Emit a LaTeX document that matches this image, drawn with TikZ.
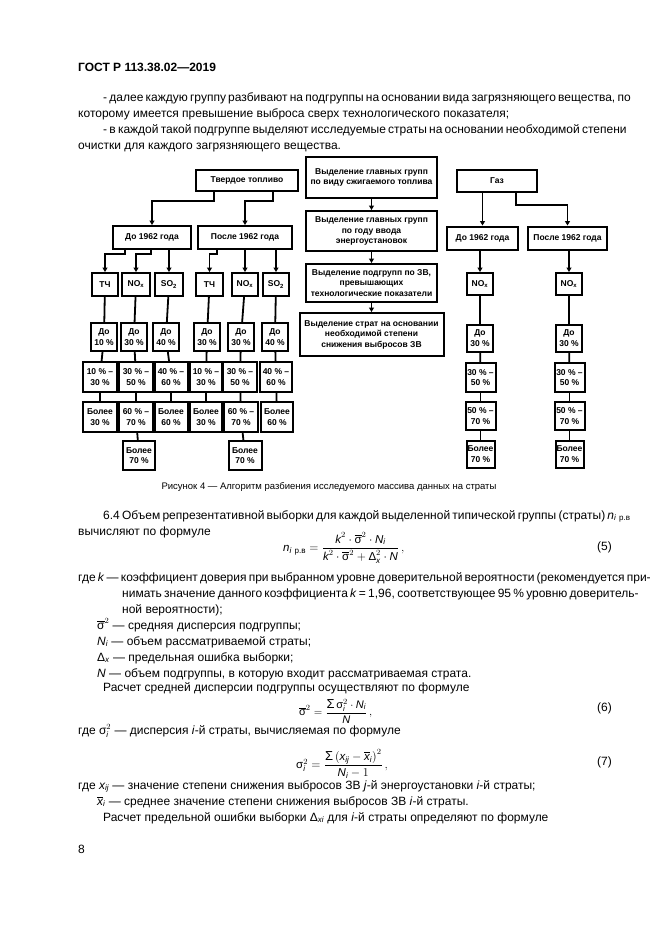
\documentclass[tikz,border=0pt]{standalone}
\usepackage{fontspec}
\setmainfont{Liberation Sans}
\usepackage{amsmath}
\usetikzlibrary{arrows.meta}
\newcommand{\vv}[1]{\textit{#1}}
\newcommand{\sgm}{\text{σ}}
\newcommand{\dlt}{\text{Δ}}
\newcommand{\smm}{\mathop{\text{\fontsize{13}{13}\selectfont Σ}}\nolimits}
\tikzset{
  blk/.style={draw, line width=2pt, inner sep=0.5pt, align=center, font=\bfseries\fontsize{8.5}{10.5}\selectfont},
  gbox/.style={blk, minimum width=#1, minimum height=23pt},
  sbox/.style={blk, minimum width=#1, minimum height=23pt},
  dbox/.style={blk, minimum width=26pt, minimum height=28pt},
  rbox/.style={blk, minimum width=#1, minimum height=30pt},
  lnk/.style={line width=1.8pt},
  arr/.style={line width=1.8pt, -{Triangle[length=4.5pt,width=5pt]}},
  txt/.style={anchor=base west, inner sep=0pt, font=\fontsize{12}{16}\selectfont},
  frm/.style={anchor=west, inner sep=0pt, font=\fontsize{11.5}{14}\selectfont},
}
\begin{document}
\begin{tikzpicture}[x=1pt, y=-1pt]
\useasboundingbox (0,0) rectangle (661,935);
\fill[white] (0,0) rectangle (661,935);

\node[txt, font=\bfseries\fontsize{12}{14}\selectfont] (hdr) at (78,71) {ГОСТ Р 113.38.02—2019};
\node[txt] (p1) at (103,101) {\makebox[509pt][s]{- далее каждую группу разбивают на подгруппы на основании вида загрязняющего вещества, по}};
\node[txt] (p2) at (78,117) {которому имеется превышение выброса сверх технологического показателя;};
\node[txt] (p3) at (103,133) {\makebox[509pt][s]{- в каждой такой подгруппе выделяют исследуемые страты на основании необходимой степени}};
\node[txt] (p4) at (78,149) {очистки для каждого загрязняющего вещества.};

\node[blk, minimum width=131pt, minimum height=41pt] (m1) at (371.5,177.5) {Выделение главных групп\\по виду сжигаемого топлива};
\node[blk, minimum width=131pt, minimum height=40pt] (m2) at (371.5,231) {Выделение главных групп\\по году ввода\\энергоустановок};
\node[blk, minimum width=131pt, minimum height=38pt] (m3) at (371.5,283) {Выделение подгрупп по ЗВ,\\превышающих\\технологические показатели};
\node[blk, minimum width=144pt, minimum height=43pt] (m4) at (371.5,334.5) {Выделение страт на основании\\необходимой степени\\снижения выбросов ЗВ};
\draw[arr] (m1) -- (m2);
\draw[arr] (m2) -- (m3);
\draw[arr] (m3) -- (m4);

\node[blk, minimum width=102pt, minimum height=21pt] (tv) at (247,180.5) {Твердое топливо};
\node[gbox=78pt] (l1) at (152,237.5) {До 1962 года};
\node[gbox=94pt] (l2) at (245,237.5) {После 1962 года};
\coordinate (t1) at (214,201);
\coordinate (t2) at (273,201);
\draw[arr] (tv.south -| t1) -- (t1) -| (l1);
\draw[arr] (tv.south -| t2) -- (t2) -| (l2);

\node[sbox=26pt] (a1) at (105,284.5) {ТЧ};
\node[sbox=28pt] (a2) at (136,284.5) {NO\textsubscript{x}};
\node[sbox=28pt] (a3) at (169,284.5) {SO\textsubscript{2}};
\node[sbox=27pt] (a4) at (209.5,284.5) {ТЧ};
\node[sbox=26pt] (a5) at (245,284.5) {NO\textsubscript{x}};
\node[sbox=26pt] (a6) at (276,284.5) {SO\textsubscript{2}};
\coordinate (u1) at (125,254);
\coordinate (u2) at (151,254);
\coordinate (u3) at (217,254);
\draw[arr] (l1.south -| u1) -- (u1) -| (a1);
\draw[arr] (l1.south -| u2) -- (u2) -| (a2);
\draw[arr] (l1.south -| a3) -- (a3);
\draw[arr] (l2.south -| u3) -- (u3) -| (a4);
\draw[arr] (l2.south -| a5) -- (a5);
\draw[arr] (l2.south -| a6) -- (a6);

\node[dbox] (b1) at (104,337) {До\\10 \%};
\node[dbox] (b2) at (134,337) {До\\30 \%};
\node[dbox] (b3) at (166,337) {До\\40 \%};
\node[dbox] (b4) at (207,337) {До\\30 \%};
\node[dbox] (b5) at (241,337) {До\\30 \%};
\node[dbox] (b6) at (275,337) {До\\40 \%};

\node[rbox=34pt] (c1) at (100,377) {10 \% –\\30 \%};
\node[rbox=34pt] (c2) at (136,377) {30 \% –\\50 \%};
\node[rbox=33pt] (c3) at (171,377) {40 \% –\\60 \%};
\node[rbox=32pt] (c4) at (206,377) {10 \% –\\30 \%};
\node[rbox=34pt] (c5) at (240,377) {30 \% –\\50 \%};
\node[rbox=32pt] (c6) at (276,377) {40 \% –\\60 \%};

\node[rbox=34pt] (d1) at (100,417) {Более\\30 \%};
\node[rbox=34pt] (d2) at (136,417) {60 \% –\\70 \%};
\node[rbox=33pt] (d3) at (171,417) {Более\\60 \%};
\node[rbox=32pt] (d4) at (206,417) {Более\\30 \%};
\node[rbox=34pt] (d5) at (241,417) {60 \% –\\70 \%};
\node[rbox=32pt] (d6) at (277,417) {Более\\60 \%};

\node[rbox=32pt, minimum height=29pt] (e1) at (139,455.5) {Более\\70 \%};
\node[rbox=33pt, minimum height=29pt] (e2) at (245,455.5) {Более\\70 \%};

\foreach \p/\q in {a1/b1,a2/b2,a3/b3,a4/b4,a5/b5,a6/b6,b1/c1,b2/c2,b3/c3,b4/c4,b5/c5,b6/c6,c1/d1,c2/d2,c3/d3,c4/d4,c5/d5,c6/d6,d2/e1,d5/e2}
  \draw[lnk] (\p) -- (\q);

\node[blk, minimum width=80pt, minimum height=22pt] (gz) at (497,181) {Газ};
\node[gbox=71pt] (g1) at (482.5,238) {До 1962 года};
\node[gbox=79pt] (g2) at (567.5,238) {После 1962 года};
\coordinate (v1) at (516,205);
\draw[arr] (gz.south -| g1) -- (g1);
\draw[arr] (gz.south -| v1) -- (v1) -| (g2);

\node[sbox=26pt, minimum height=22pt] (gn1) at (480,284) {NO\textsubscript{x}};
\node[sbox=26pt, minimum height=22pt] (gn2) at (569,284) {NO\textsubscript{x}};
\node[dbox, minimum height=27pt] (gb1) at (480,338) {До\\30 \%};
\node[dbox, minimum height=27pt] (gb2) at (569,338) {До\\30 \%};
\node[rbox=30pt, minimum height=29pt] (gc1) at (480.5,377.5) {30 \% –\\50 \%};
\node[rbox=30pt, minimum height=29pt] (gc2) at (569.5,377.5) {30 \% –\\50 \%};
\node[rbox=30pt, minimum height=28pt] (gd1) at (480.5,416) {50 \% –\\70 \%};
\node[rbox=30pt, minimum height=28pt] (gd2) at (569.5,416) {50 \% –\\70 \%};
\node[rbox=28pt, minimum height=27pt] (ge1) at (480.5,454) {Более\\70 \%};
\node[rbox=28pt, minimum height=27pt] (ge2) at (569.5,454) {Более\\70 \%};
\draw[arr] (g1.south -| gn1) -- (gn1);
\draw[arr] (g2.south -| gn2) -- (gn2);
\foreach \p/\q in {gn1/gb1,gb1/gc1,gc1/gd1,gd1/ge1,gn2/gb2,gb2/gc2,gc2/gd2,gd2/ge2}
  \draw[lnk] (\p) -- (\q);

\node[txt, anchor=base, font=\fontsize{9.5}{12}\selectfont] (cap) at (329,489) {Рисунок 4 — Алгоритм разбиения исследуемого массива данных на страты};

\node[txt] (s1) at (103,519) {\makebox[509pt][s]{6.4 Объем репрезентативной выборки для каждой выделенной типической группы (страты) $\vv{n}_{\vv{i}\ \text{р.в}}$}};
\node[txt] (s2) at (78,535) {вычисляют по формуле};
\node[frm] (f5) at (283,548) {$\vv{n}_{\vv{i}\ \text{р.в}} = \dfrac{\vv{k}^2\cdot\overline{\sgm}^2\cdot\vv{N}_{\vv{i}}}{\vv{k}^2\cdot\overline{\sgm}^2+\dlt_{\vv{x}}^2\cdot\vv{N}}\,,$};
\node[txt, anchor=base east] (n5) at (612,550) {(5)};
\node[txt] (s3) at (78,581) {\makebox[534pt][s]{где \vv{k} — коэффициент доверия при выбранном уровне доверительной вероятности (рекомендуется при-}};
\node[txt] (s4) at (122,597) {\makebox[490pt][s]{нимать значение данного коэффициента \vv{k} = 1,96, соответствующее 95 \% уровню доверитель-}};
\node[txt] (s5) at (122,613) {ной вероятности);};
\node[txt] (s6) at (97,629) {$\overline{\sgm}^2$ — средняя дисперсия подгруппы;};
\node[txt] (s7) at (97,645) {$\vv{N}_{\vv{i}}$ — объем рассматриваемой страты;};
\node[txt] (s8) at (97,661) {$\dlt_{\vv{x}}$ — предельная ошибка выборки;};
\node[txt] (s9) at (97,677) {\vv{N} — объем подгруппы, в которую входит рассматриваемая страта.};
\node[txt] (s10) at (103,691) {Расчет средней дисперсии подгруппы осуществляют по формуле};
\node[frm, font=\fontsize{11}{13}\selectfont] (f6) at (299,711) {$\overline{\sgm}^2 = \dfrac{\smm\sgm_{\vv{i}}^2\cdot\vv{N}_{\vv{i}}}{\vv{N}}\,,$};
\node[txt, anchor=base east] (n6) at (612,711) {(6)};
\node[txt] (s11) at (78,734) {где $\sgm_{\vv{i}}^2$ — дисперсия \vv{i}-й страты, вычисляемая по формуле};
\node[frm] (f7) at (296,764) {$\sgm_{\vv{i}}^2 = \dfrac{\smm\left(\vv{x}_{\vv{ij}}-\overline{\vv{x}}_{\vv{i}}\right)^2}{\vv{N}_{\vv{i}}-1}\,,$};
\node[txt, anchor=base east] (n7) at (612,765) {(7)};
\node[txt] (s12) at (78,789) {где $\vv{x}_{\vv{ij}}$ — значение степени снижения выбросов ЗВ \vv{j}-й энергоустановки \vv{i}-й страты;};
\node[txt] (s13) at (97,805) {$\overline{\vv{x}}_{\vv{i}}$ — среднее значение степени снижения выбросов ЗВ \vv{i}-й страты.};
\node[txt] (s14) at (103,821) {Расчет предельной ошибки выборки $\dlt_{\vv{xi}}$ для \vv{i}-й страты определяют по формуле};
\node[txt] (pg) at (78,853) {8};
\end{tikzpicture}
\end{document}
